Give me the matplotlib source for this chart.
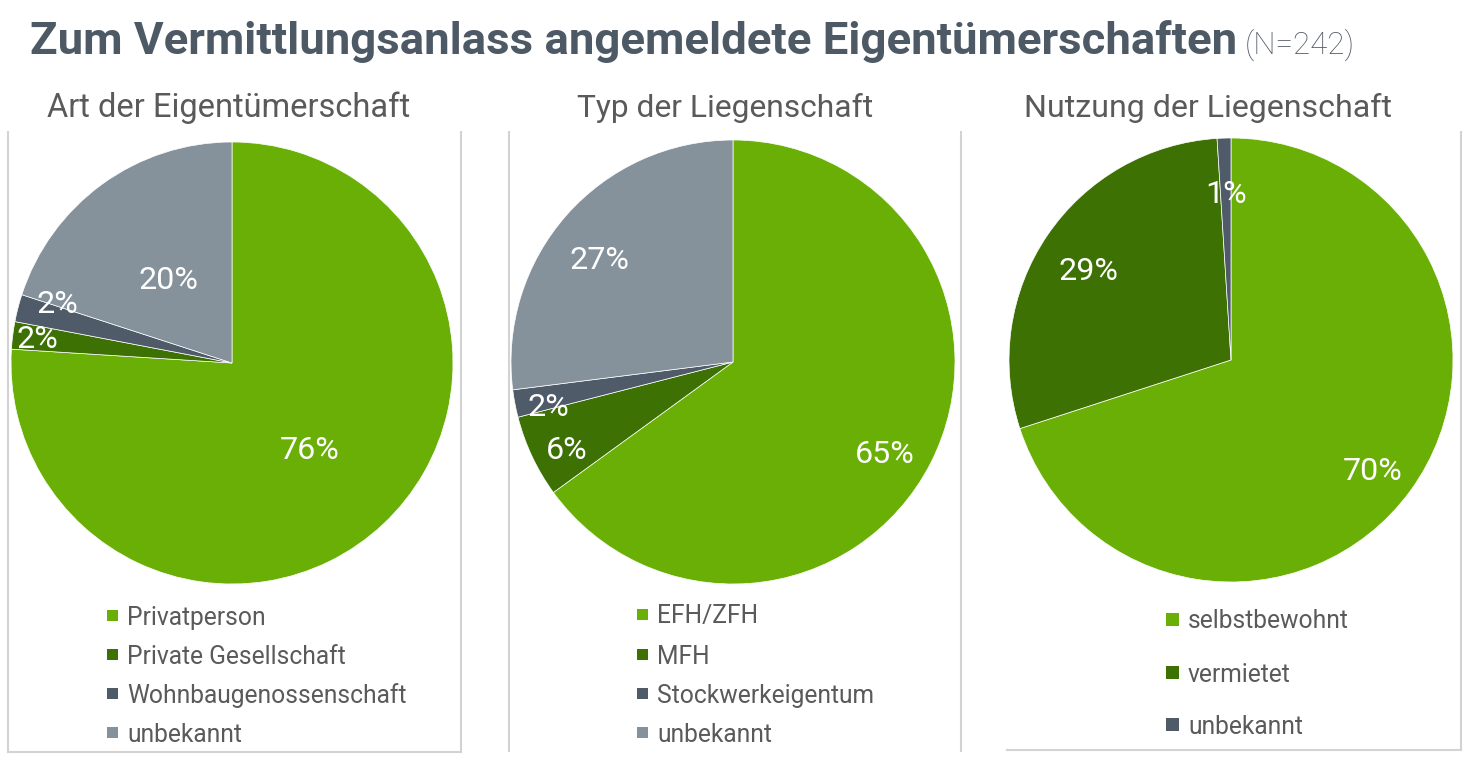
import matplotlib
matplotlib.use("Agg")
import matplotlib.pyplot as plt
import numpy as np
from matplotlib.patches import Rectangle
from matplotlib.lines import Line2D
from matplotlib.transforms import offset_copy

# ---------------- data ----------------
title_main = "Zum Vermittlungsanlass angemeldete Eigentümerschaften"
title_n = "(N=242)"

titles = ["Art der Eigentümerschaft", "Typ der Liegenschaft", "Nutzung der Liegenschaft"]

labels_art = ["Privatperson", "Private Gesellschaft", "Wohnbaugenossenschaft", "unbekannt"]
values_art = [76, 2, 2, 20]

labels_typ = ["EFH/ZFH", "MFH", "Stockwerkeigentum", "unbekannt"]
values_typ = [65, 6, 2, 27]

labels_nutz = ["selbstbewohnt", "vermietet", "unbekannt"]
values_nutz = [70, 29, 1]

# ---------------- styles ----------------
W, H = 1472, 764
GREEN = "#6AAF06"
DKGREEN = "#3E7104"
SLATE = "#505B69"
GREY = "#85919B"
colors_art = [GREEN, DKGREEN, SLATE, GREY]
colors_typ = [GREEN, DKGREEN, SLATE, GREY]
colors_nutz = [GREEN, DKGREEN, SLATE]
TITLE_COL = "#4E5966"
TEXT_COL = "#5A5A5A"
LINE_COL = "#D3D3D3"
FONT = "Roboto"

fig = plt.figure(figsize=(W / 100, H / 100), dpi=100)
fig.patch.set_facecolor("white")


def fx(x):
    return x / W


def fy(y):
    return 1 - y / H


renderer = fig.canvas.get_renderer()


def fit_text(x, y, s, target_w, ha="left", **kw):
    t = fig.text(fx(x), fy(y), s, ha=ha, va="baseline", fontsize=20, **kw)
    bb = t.get_window_extent(renderer)
    t.set_fontsize(20 * target_w / bb.width)
    return t


# ---------------- title ----------------
fit_text(30, 54, title_main, 1202, color=TITLE_COL, family=FONT, fontweight="bold")
fit_text(1245, 54, title_n, 110, color=TITLE_COL, family=FONT, fontweight="light")

# ---------------- panel lines ----------------
def vline(x, y0, y1):
    fig.add_artist(Line2D([fx(x), fx(x)], [fy(y0), fy(y1)], color=LINE_COL, lw=1.5,
                          transform=fig.transFigure))


def hline(y, x0, x1):
    fig.add_artist(Line2D([fx(x0), fx(x1)], [fy(y), fy(y)], color=LINE_COL, lw=1.5,
                          transform=fig.transFigure))


vline(8, 132, 752)
vline(461, 132, 752)
hline(752, 8, 461)
vline(509, 132, 751)
vline(961, 132, 751)
vline(1461, 132, 750)
hline(750, 1007, 1461)

# ---------------- pies ----------------
panels = [
    dict(cx=232, cy=363, R=221, values=values_art, labels=labels_art, colors=colors_art,
         lab_r=[0.51, 0.89, 0.84, 0.49], lab_da=[0, -1, -5.6, 0], title_x=228.5, title_w=363,
         leg_x=107, leg_rows=[615, 654, 693, 732], leg_sq=11),
    dict(cx=733, cy=362, R=222, values=values_typ, labels=labels_typ, colors=colors_typ,
         lab_r=[0.79, 0.84, 0.85, 0.77], lab_da=[-3, 1.5, 1.5, 3], title_x=725.5, title_w=295,
         leg_x=637, leg_rows=[614, 654, 693, 732], leg_sq=11),
    dict(cx=1231, cy=360, R=222, values=values_nutz, labels=labels_nutz, colors=colors_nutz,
         lab_r=[0.80, 0.77, 0.77], lab_da=[-1, 1, 0], title_x=1208.5, title_w=367,
         leg_x=1166, leg_rows=[619, 672, 724], leg_sq=13),
]

# fitted sizes
tmp = fig.text(0, 0, "Wohnbaugenossenschaft", fontsize=20, family=FONT)
leg_fs = 20 * 279 / tmp.get_window_extent(renderer).width
tmp.remove()
tmp = fig.text(0, 0, "76%", fontsize=20, family=FONT)
pct_fs = 20 * 60 / tmp.get_window_extent(renderer).width
tmp.remove()

for i, p in enumerate(panels):
    cx, cy, R = p["cx"], p["cy"], p["R"]
    ax = fig.add_axes([fx(cx - R), fy(cy + R), 2 * R / W, 2 * R / H])
    wedges, _ = ax.pie(p["values"], colors=p["colors"], startangle=90, counterclock=False,
                       radius=1, wedgeprops=dict(edgecolor="white", linewidth=0.5))
    ax.set_xlim(-1, 1)
    ax.set_ylim(-1, 1)
    ax.set_aspect("equal")
    ax.axis("off")
    tr = offset_copy(ax.transData, fig=fig, x=0, y=-5, units="dots")
    for w, v, rr, da in zip(wedges, p["values"], p["lab_r"], p["lab_da"]):
        ang = np.deg2rad((w.theta1 + w.theta2) / 2 + da)
        ax.text(rr * np.cos(ang), rr * np.sin(ang), f"{v}%", ha="center", va="center",
                color="white", fontsize=pct_fs, family=FONT, transform=tr)

    # subtitle
    fit_text(p["title_x"], 117, titles[i], p["title_w"], ha="center", color=TEXT_COL,
             family=FONT)

    # legend
    sq = p["leg_sq"]
    for lab, col, ry in zip(p["labels"], p["colors"], p["leg_rows"]):
        fig.add_artist(Rectangle((fx(p["leg_x"]), fy(ry + sq / 2)), sq / W, sq / H,
                                 transform=fig.transFigure, facecolor=col, edgecolor="none"))
        fig.text(fx(p["leg_x"] + sq + 9), fy(ry), lab, ha="left", va="center_baseline",
                 fontsize=leg_fs, color=TEXT_COL, family=FONT)

fig.savefig("out.png", dpi=100, facecolor="white")
